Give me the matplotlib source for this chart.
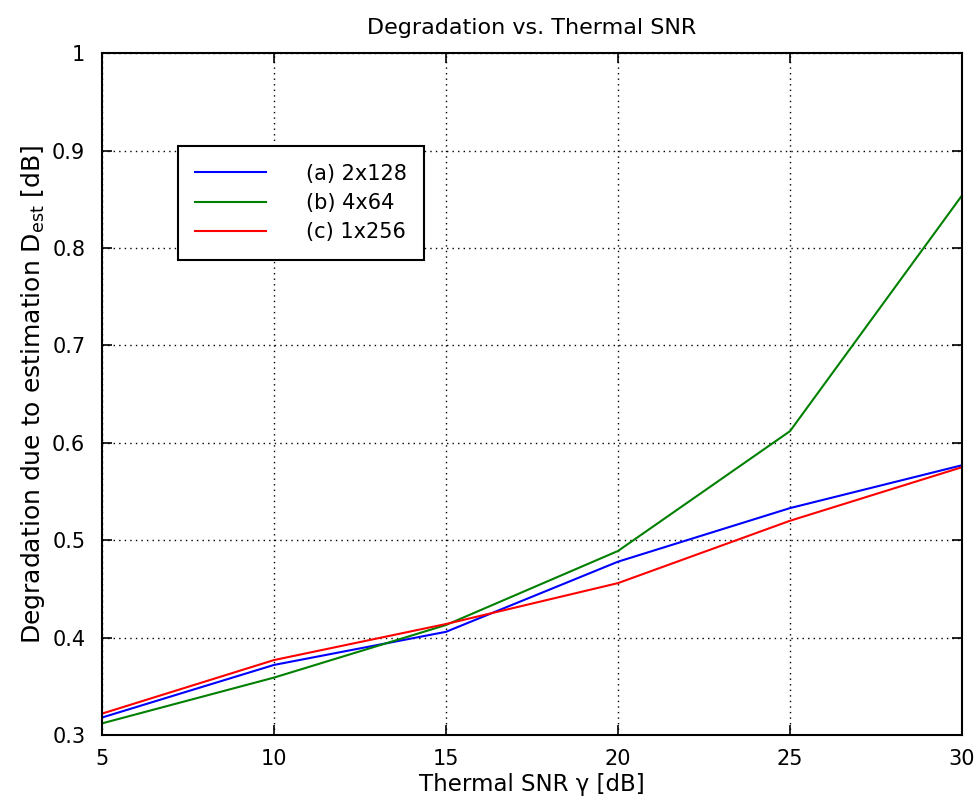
import matplotlib
matplotlib.use("Agg")
import matplotlib.pyplot as plt

plt.rcParams['font.family'] = ['DejaVu Sans']
plt.rcParams['mathtext.fontset'] = 'dejavusans'

snr = [5, 10, 15, 20, 25, 30]
a_2x128 = [0.318, 0.372, 0.406, 0.478, 0.533, 0.577]
b_4x64 = [0.312, 0.359, 0.413, 0.489, 0.612, 0.854]
c_1x256 = [0.322, 0.377, 0.414, 0.456, 0.520, 0.575]
labels = ["(a) 2x128", "(b) 4x64", "(c) 1x256"]
xticks = [5, 10, 15, 20, 25, 30]
yticks = [0.3, 0.4, 0.5, 0.6, 0.7, 0.8, 0.9, 1.0]
yticklabels = ["0.3", "0.4", "0.5", "0.6", "0.7", "0.8", "0.9", "1"]

fig = plt.figure(figsize=(9.74, 8.06), dpi=100)
ax = fig.add_axes([0.1047, 0.088, 0.883, 0.846])

ax.plot(snr, a_2x128, color='#0000ff', lw=1.5, label=labels[0])
ax.plot(snr, b_4x64, color='#008000', lw=1.5, label=labels[1])
ax.plot(snr, c_1x256, color='#ff0000', lw=1.5, label=labels[2])

ax.set_xlim(5, 30)
ax.set_ylim(0.3, 1.0)
ax.set_xticks(xticks)
ax.set_yticks(yticks)
ax.set_yticklabels(yticklabels)
ax.grid(True, color='black', linestyle=(0, (1, 3)), linewidth=1.0)
ax.tick_params(direction='in', top=True, right=True, length=7, width=1.2, labelsize=15)
ax.tick_params(axis='y', pad=12)
ax.tick_params(axis='x', pad=10)
for s in ax.spines.values():
    s.set_linewidth(1.5)

ax.set_title("Degradation vs. Thermal SNR", fontsize=16, pad=14)
ax.set_xlabel("Thermal SNR γ [dB]", fontsize=16.5, labelpad=3)
ax.set_ylabel("Degradation due to estimation D$_{\\mathregular{est}}$ [dB]", fontsize=18, labelpad=4)

leg = ax.legend(loc='upper left', bbox_to_anchor=(0.088, 0.864), borderaxespad=0,
                fontsize=15, handlelength=3.4, handletextpad=1.9, fancybox=False,
                framealpha=1, edgecolor='black', borderpad=0.85, labelspacing=0.45)
leg.get_frame().set_linewidth(1.5)

fig.savefig("out.png", dpi=100)
